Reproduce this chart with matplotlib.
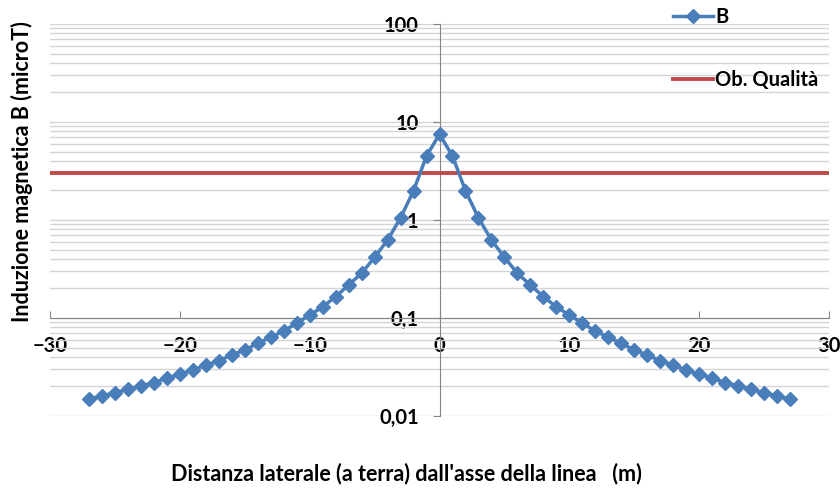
import matplotlib.pyplot as plt
from matplotlib.ticker import FixedLocator, FixedFormatter, LogLocator, NullFormatter

plt.rcParams['font.family'] = ['Lato', 'DejaVu Sans']

# distanza laterale (m) e induzione B (microT)
x = list(range(-27, 28))
b_right = [7.5, 4.5, 1.99, 1.05, 0.625, 0.416, 0.286, 0.217, 0.165, 0.130,
           0.107, 0.0883, 0.0737, 0.0635, 0.0552, 0.0471, 0.0419, 0.0366,
           0.0331, 0.0294, 0.0266, 0.0244, 0.0219, 0.0202, 0.0187, 0.0173,
           0.0160, 0.0149]
b = b_right[:0:-1] + b_right
ob_qualita = 3.0

xticks = [-30, -20, -10, 0, 10, 20, 30]
yticks = [0.01, 0.1, 1, 10, 100]
ylabels = ['0,01', '0,1', '1', '10', '100']

fig = plt.figure(figsize=(8.4, 4.93), dpi=100)
ax = fig.add_axes([50/840, 77/493, 779/840, 392/493])

ax.set_yscale('log')
ax.set_xlim(-30, 30)
ax.set_ylim(0.01, 100)

ax.yaxis.set_minor_locator(LogLocator(base=10, subs=range(2, 10)))
ax.yaxis.set_minor_formatter(NullFormatter())
ax.grid(True, which='both', axis='y', color='#d4d4d4', lw=1)
ax.set_axisbelow(True)

ax.axhline(ob_qualita, color='#be4b48', lw=2.8, label='Ob. Qualità', zorder=3)
ax.plot(x, b, color='#4a7ebb', lw=2.5, marker='D', ms=7.5, label='B', zorder=4)

for s in ['top', 'right']:
    ax.spines[s].set_visible(False)
ax.spines['left'].set_position(('data', 0))
ax.spines['bottom'].set_position(('data', 0.1))
ax.spines['left'].set_color('#868686')
ax.spines['bottom'].set_color('#868686')

ax.yaxis.set_major_locator(FixedLocator(yticks))
ax.yaxis.set_major_formatter(FixedFormatter(ylabels))
ax.tick_params(axis='y', which='major', direction='out', length=5, color='#868686',
               labelsize=14.5, pad=10)
ax.tick_params(axis='y', which='minor', length=0)
ax.set_xticks(xticks)
ax.tick_params(axis='x', direction='in', length=5, color='#868686', labelsize=14.5, pad=13)
for lab in ax.get_xticklabels() + ax.get_yticklabels():
    lab.set_fontweight('bold')

h, l = ax.get_legend_handles_labels()
ax.legend(h[::-1], l[::-1], loc='upper left', bbox_to_anchor=(0.776, 1.09), frameon=False,
          prop={'weight': 'bold', 'size': 14.5}, labelspacing=2.15,
          handlelength=2.0, handletextpad=0.1)

fig.text(22/840, 1 - 172/493, 'Induzione magnetica B (microT)', rotation=90,
         ha='center', va='center', fontsize=15.5, fontweight='bold')
fig.text(406/840, 1 - 474/493, "Distanza laterale (a terra) dall'asse della linea   (m)",
         ha='center', va='center', fontsize=15.5, fontweight='bold')

fig.savefig('out.png', dpi=100)
